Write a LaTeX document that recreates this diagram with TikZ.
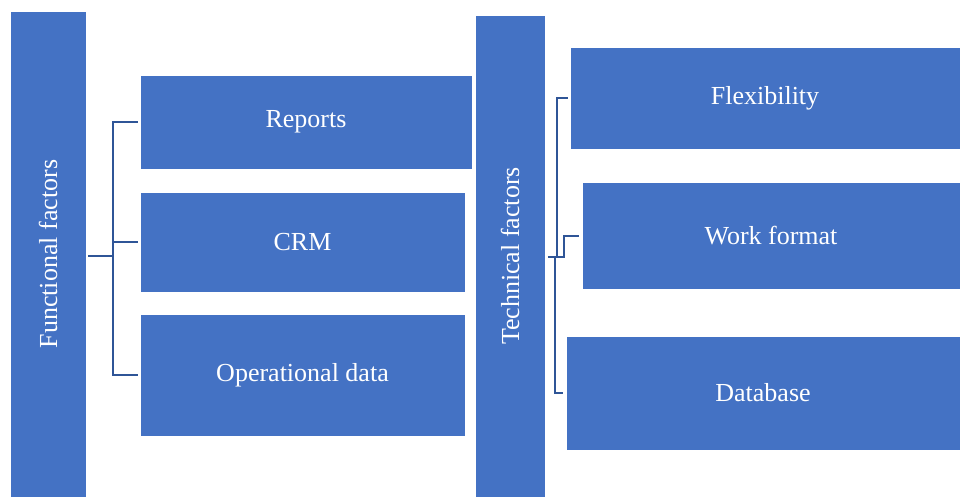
\documentclass[tikz,border=0pt]{standalone}
\usepackage{fontspec}
\setmainfont{Liberation Serif}
\usetikzlibrary{positioning}

\begin{document}
\begin{tikzpicture}[x=0.75pt,y=-0.75pt]
            \definecolor{boxblue}{HTML}{4472C4}
            \definecolor{linkblue}{HTML}{2F5597}
            \tikzset{
                factor/.style={fill=boxblue,draw=white,line width=0.4pt,inner sep=0pt,
                    text=white,font=\fontsize{19.5}{23}\selectfont},
                link/.style={draw=linkblue,line width=1.5pt}
            }
            \useasboundingbox (0,0) rectangle (960,497);

            % left group
            \node (ff)  [factor,minimum width=57pt,minimum height=364.5pt]   at (48,254)    {\rotatebox{90}{Functional factors}};
            \node (rep) [factor,minimum width=249pt,minimum height=70.5pt]   at (306,122)   {Reports};
            \node (crm) [factor,minimum width=243.75pt,minimum height=75pt]  at (302.5,242) {CRM};
            \node (opd) [factor,minimum width=243.75pt,minimum height=91.5pt] at (302.5,375) {Operational data};

            % right group
            \node (tf)  [factor,minimum width=52.5pt,minimum height=361.5pt] at (510,256)   {\rotatebox{90}{Technical factors}};
            \node (flx) [factor,minimum width=292.5pt,minimum height=76.5pt] at (765,98)    {Flexibility};
            \node (wfm) [factor,minimum width=283.5pt,minimum height=80.25pt] at (771,235.5) {Work format};
            \node (dbs) [factor,minimum width=295.5pt,minimum height=85.5pt] at (763,393)   {Database};

            \coordinate (lj) at (113,256);
            \draw[link] ([xshift=1.5pt]ff.east |- lj) -- (lj);
            \draw[link] ([xshift=-1.5pt]rep.west) -| (lj) |- ([xshift=-1.5pt]opd.west);
            \draw[link] (lj |- crm.west) -- ([xshift=-1.5pt]crm.west);

            \coordinate (rt) at (557,257);
            \coordinate (rm) at (564,257);
            \coordinate (rb) at (555,257);
            \draw[link] ([xshift=2pt]tf.east |- rt) -- (rm) |- ([xshift=-2pt]wfm.west);
            \draw[link] (rt) |- ([xshift=-1.5pt]flx.west);
            \draw[link] (rb) |- ([xshift=-2pt]dbs.west);
\end{tikzpicture}
\end{document}
